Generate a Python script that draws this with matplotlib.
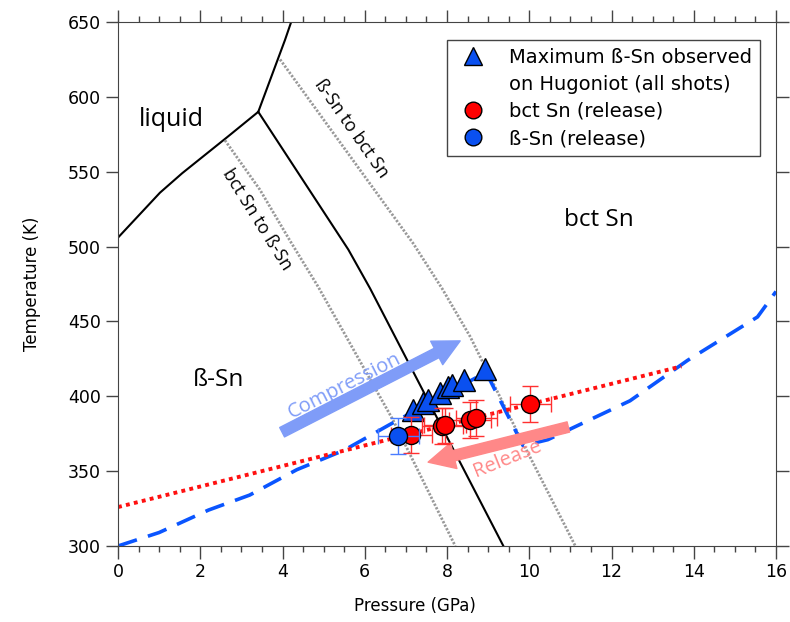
import matplotlib.pyplot as plt
from matplotlib.lines import Line2D
import numpy as np

# phase boundaries (GPa, K)
melt_beta_p = [0.0, 1.02, 1.56, 2.65, 3.41]
melt_beta_t = [506, 536, 549, 573, 590]
melt_bct_p = [3.41, 4.06, 4.21]
melt_bct_t = [590, 638, 650]
beta_bct_p = [3.41, 5.6, 6.13, 9.37]
beta_bct_t = [590, 498, 472, 300]

# kinetic lines
bct_to_beta_p = [2.6, 3.45, 4.18, 4.87, 6.69, 8.2]
bct_to_beta_t = [571, 538, 504, 473, 384, 300]
beta_to_bct_p = [3.94, 7.18, 7.88, 8.56, 9.73, 11.12]
beta_to_bct_t = [625, 502, 472, 440, 375, 300]

# Hugoniot (blue dashed) and release isentrope (red dotted)
hug_p = [0, 1.0, 2.2, 3.2, 4.35, 5.5, 6.6, 7.8, 8.95, 9.85, 10.45, 12.45, 13.85, 15.55, 16.0]
hug_t = [300, 309, 324, 334, 351, 364, 381, 399, 416, 367, 371, 397, 424, 453, 470]
rel_p = [0, 13.7]
rel_t = [326, 420]

# data points
tri_p = [7.18, 7.42, 7.54, 7.83, 8.03, 8.13, 8.42, 8.93]
tri_t = [391, 395.5, 397.5, 402, 406, 407.5, 411, 418]
bct_p = [7.13, 7.88, 7.95, 8.56, 8.71, 10.02]
bct_t = [374, 380, 380.5, 384, 385.5, 395]
beta_p = [6.81]
beta_t = [373.5]
p_err = 0.5
t_err = 12

fig = plt.figure(figsize=(7.9, 6.22), dpi=100)
ax = fig.add_axes([0.1494, 0.1222, 0.8329, 0.8424])

ax.plot(melt_beta_p, melt_beta_t, color='black', lw=1.5)
ax.plot(melt_bct_p, melt_bct_t, color='black', lw=1.5)
ax.plot(beta_bct_p, beta_bct_t, color='black', lw=1.5)

ax.plot(bct_to_beta_p, bct_to_beta_t, color='#999999', lw=2.0, dashes=(0.8, 0.6))
ax.plot(beta_to_bct_p, beta_to_bct_t, color='#999999', lw=2.0, dashes=(0.8, 0.6))

ax.plot(hug_p, hug_t, color='#0a55ff', lw=2.6, dashes=(5.5, 3.2))
ax.plot(rel_p, rel_t, color='#ff1010', lw=2.8, dashes=(1, 1.1))

# arrows
ax.annotate('', xy=(8.32, 437), xytext=(3.99, 376),
            arrowprops=dict(arrowstyle='simple,head_length=0.95,head_width=0.95,tail_width=0.38',
                            color='#7f9cf8', shrinkA=0, shrinkB=0, mutation_scale=20))
ax.annotate('', xy=(7.54, 356), xytext=(10.95, 379.5),
            arrowprops=dict(arrowstyle='simple,head_length=0.95,head_width=0.95,tail_width=0.38',
                            color='#ff8888', shrinkA=0, shrinkB=0, mutation_scale=20))
ax.text(5.52, 407, 'Compression', color='#7f9cf8', fontsize=14.5, family='Open Sans',
        rotation=27, ha='center', va='center')
ax.text(9.46, 358, 'Release', color='#ff8888', fontsize=14.5, family='Open Sans',
        rotation=22, ha='center', va='center')

ax.plot(tri_p, tri_t, '^', color='#0a50f0', mec='black', mew=1, ms=16, zorder=5)
ax.errorbar(bct_p, bct_t, xerr=p_err, yerr=t_err, fmt='o', color='#ff0000', mec='black',
            mew=1, ms=13, ecolor='#ff3030', elinewidth=1, capsize=6, zorder=6)
ax.errorbar(beta_p, beta_t, xerr=p_err, yerr=t_err, fmt='o', color='#0a50f0', mec='black',
            mew=1, ms=13, ecolor='#4a7cff', elinewidth=1, capsize=6, zorder=7)

# region labels
ax.text(1.3, 585, 'liquid', fontsize=18, family='Open Sans', ha='center', va='center')
ax.text(11.7, 518, 'bct Sn', fontsize=17.5, family='Open Sans', ha='center', va='center')
ax.text(2.45, 411, 'ß-Sn', fontsize=17.5, family='Open Sans', ha='center', va='center')
ax.text(5.67, 579, 'ß-Sn to bct Sn', fontsize=13, family='Open Sans', rotation=-55,
        ha='center', va='center')
ax.text(3.38, 518, 'bct Sn to ß-Sn', fontsize=13, family='Open Sans', rotation=-58,
        ha='center', va='center')

ax.set_xlim(0, 16)
ax.set_ylim(300, 650)
ax.set_xticks(np.arange(0, 17, 2))
ax.set_xticks(np.arange(0, 16.01, 0.5), minor=True)
ax.set_yticks(np.arange(300, 651, 50))
ax.tick_params(which='both', direction='out', top=True, right=True, color='#444444',
               labelsize=12.5)
ax.tick_params(which='major', length=9, width=1)
ax.tick_params(which='minor', length=4, width=1)
for s in ax.spines.values():
    s.set_color('#444444')
ax.set_xlabel('Pressure (GPa)', fontsize=12)
ax.set_ylabel('Temperature (K)', fontsize=12, labelpad=19)
ax.xaxis.set_label_coords(0.451, -0.098)

handles = [
    Line2D([], [], marker='^', ls='none', color='#0a50f0', mec='black', ms=13),
    Line2D([], [], ls='none'),
    Line2D([], [], marker='o', ls='none', color='#ff0000', mec='black', ms=12),
    Line2D([], [], marker='o', ls='none', color='#0a50f0', mec='black', ms=12),
]
labels = ['Maximum ß-Sn observed', 'on Hugoniot (all shots)', 'bct Sn (release)', 'ß-Sn (release)']
leg = ax.legend(handles, labels, loc='upper right', bbox_to_anchor=(0.976, 0.966),
                borderaxespad=0, fancybox=False, fontsize=14, handletextpad=0.9,
                labelspacing=0.42, borderpad=0.4, handlelength=1.9, framealpha=1)
leg.get_frame().set_edgecolor('#444444')
leg.get_frame().set_linewidth(1)

fig.savefig('out.png', dpi=100)
